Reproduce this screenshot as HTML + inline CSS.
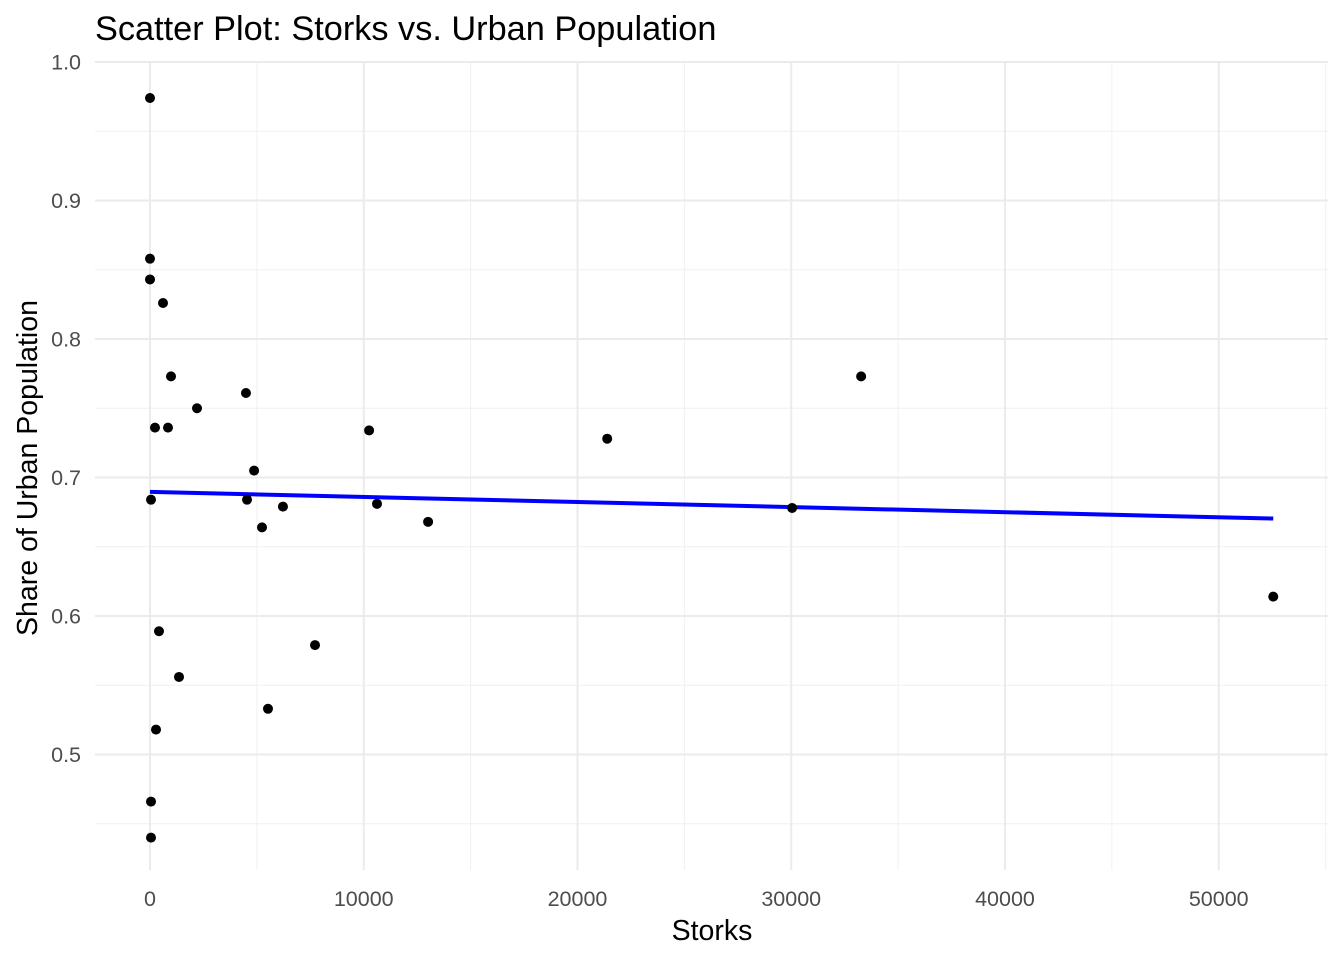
<!DOCTYPE html>
<html><head><meta charset="utf-8"><style>
body{margin:0;background:#fff;font-family:"Liberation Sans",sans-serif}
</style></head><body>
<svg id="chart" width="1344" height="960" xmlns="http://www.w3.org/2000/svg">
<text x="95" y="40" font-size="34.3" fill="#000">Scatter Plot: Storks vs. Urban Population</text>
<g id="grid"></g>
<g id="ticks"></g>
<g id="fit"></g>
<g id="points"></g>
<text x="712" y="940" font-size="28.5" text-anchor="middle" fill="#000">Storks</text>
<text transform="translate(37,468) rotate(-90)" font-size="28.5" text-anchor="middle" fill="#000">Share of Urban Population</text>
</svg>
<script>
const storks=[0,0,0,608,983,2200,4490,234,842,4870,47,4540,5240,6220,10250,10620,13010,21390,30040,33270,52550,421,7720,1357,5520,281,47,47];
const urban=[0.974,0.858,0.843,0.826,0.773,0.750,0.761,0.736,0.736,0.705,0.684,0.684,0.664,0.679,0.734,0.681,0.668,0.728,0.678,0.773,0.614,0.589,0.579,0.556,0.533,0.518,0.466,0.440];
const xTicks=[0,10000,20000,30000,40000,50000];
const xMinor=[5000,15000,25000,35000,45000,55000];
const yTicks=[0.5,0.6,0.7,0.8,0.9,1.0];
const yMinor=[0.45,0.55,0.65,0.75,0.85,0.95];
const L=95,R=1328,T=62,B=870;
const X=v=>150+v*0.021375;
const Y=v=>754.5-(v-0.5)*1385;
const NS="http://www.w3.org/2000/svg";
function mk(t,a,p){const e=document.createElementNS(NS,t);for(const k in a)e.setAttribute(k,a[k]);p.appendChild(e);return e;}
const grid=document.getElementById('grid'),ticks=document.getElementById('ticks');
yMinor.forEach(v=>{const e=mk('line',{x1:L,x2:R,y1:Y(v),y2:Y(v),stroke:'#f0f0f0','stroke-width':1},grid);

});
xMinor.forEach(v=>{const e=mk('line',{x1:X(v),x2:X(v),y1:T,y2:B,stroke:'#f0f0f0','stroke-width':1},grid);

});
yTicks.forEach(v=>{const e=mk('line',{x1:L,x2:R,y1:Y(v),y2:Y(v),stroke:'#ebebeb','stroke-width':2},grid);


const t=mk('text',{x:81,y:Y(v)+7.5,'font-size':21.5,'text-anchor':'end',fill:'#4d4d4d'},ticks);t.textContent=v.toFixed(1);

});
xTicks.forEach(v=>{const e=mk('line',{x1:X(v),x2:X(v),y1:T,y2:B,stroke:'#ebebeb','stroke-width':2},grid);


const t=mk('text',{x:X(v),y:906,'font-size':21.5,'text-anchor':'middle',fill:'#4d4d4d'},ticks);t.textContent=v;

});
const n=storks.length;let mx=0,my=0;for(let i=0;i<n;i++){mx+=storks[i];my+=urban[i];}mx/=n;my/=n;
let sxy=0,sxx=0;for(let i=0;i<n;i++){sxy+=(storks[i]-mx)*(urban[i]-my);sxx+=(storks[i]-mx)**2;}
const b=sxy/sxx,a=my-b*mx;const x0=Math.min(...storks),x1=Math.max(...storks);
const fl=mk('line',{x1:X(x0),y1:Y(a+b*x0),x2:X(x1),y2:Y(a+b*x1),stroke:'#0000ff','stroke-width':4},document.getElementById('fit'));


const pts=document.getElementById('points');
for(let i=0;i<n;i++){const c=mk('circle',{cx:X(storks[i]),cy:Y(urban[i]),r:5,fill:'#000'},pts);

}
</script>
</body></html>
